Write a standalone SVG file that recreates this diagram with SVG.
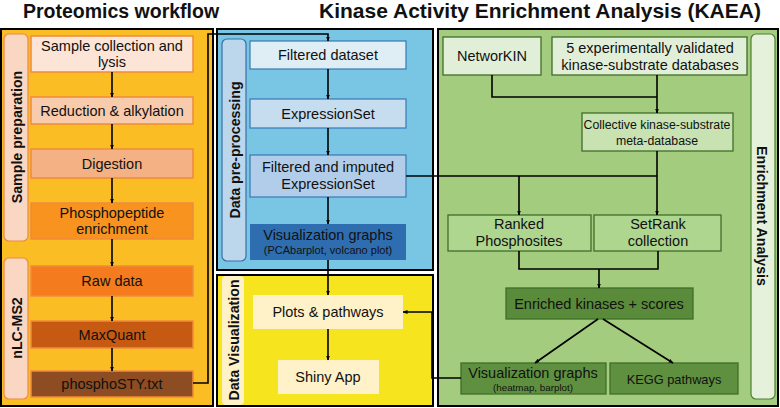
<svg xmlns="http://www.w3.org/2000/svg" width="780" height="408" viewBox="0 0 780 408">
<defs>
<marker id="ah" viewBox="0 0 10 10" refX="9" refY="5" markerWidth="5" markerHeight="5" orient="auto-start-reverse" markerUnits="userSpaceOnUse">
<path d="M0,1 L10,5 L0,9 z" fill="#000"/>
</marker>
<style>
text{font-family:"Liberation Sans",Arial,sans-serif;fill:#111;}
.title{font-size:19.5px;font-weight:bold;text-anchor:middle;}
.lbl{font-size:14.2px;font-weight:bold;text-anchor:middle;}
.t{font-size:14.5px;text-anchor:middle;}
.s{font-size:11px;text-anchor:middle;}
.panel{stroke:#000;stroke-width:2;}
.ob{stroke:#F08A3C;stroke-width:1.5;}
.bb{stroke:#3A78B5;stroke-width:1.2;}
.gb{stroke:#3F6E28;stroke-width:1.3;}
.conn path{fill:none;stroke:#000;stroke-width:1.6;}
.arr{marker-end:url(#ah);}
</style>
</defs>
<rect width="780" height="408" fill="#fff"/>
<text class="title" x="121" y="18">Proteomics workflow</text>
<text class="title" x="540" y="18" style="font-size:21px">Kinase Activity Enrichment Analysis (KAEA)</text>

<!-- panels -->
<g id="panel-proteomics">
<rect class="panel" x="1" y="29" width="212" height="377" fill="#FABE24"/>
</g>
<g id="panel-preprocessing">
<rect class="panel" x="217" y="29" width="216" height="241" fill="#78C6E3"/>
</g>
<g id="panel-visualization">
<rect class="panel" x="217" y="275" width="216" height="131" fill="#F6E41F"/>
</g>
<g id="panel-kaea">
<rect class="panel" x="438" y="29" width="340" height="377" fill="#A3CC7E"/>
</g>

<!-- side labels -->
<g id="lbl-sample-prep">
<rect x="4" y="34" width="24" height="207" rx="5" fill="#F9D7C3" stroke="#EB8A45" stroke-width="1.2"/>
<text class="lbl" transform="translate(22,137) rotate(-90)">Sample preparation</text>
</g>
<g id="lbl-nlc">
<rect x="4" y="258" width="24" height="141" rx="5" fill="#F9D7C3" stroke="#EB8A45" stroke-width="1.2"/>
<text class="lbl" transform="translate(22,328) rotate(-90)">nLC-MS2</text>
</g>
<g id="lbl-data-pre">
<rect x="222" y="39" width="24" height="222" rx="5" fill="#BCD6EC" stroke="#3A6FA8" stroke-width="1.2"/>
<text class="lbl" transform="translate(240,150) rotate(-90)">Data pre-processing</text>
</g>
<g id="lbl-data-vis">
<rect x="222" y="276" width="22" height="129" rx="4" fill="#FFF1C8"/>
<text class="lbl" transform="translate(239,340) rotate(-90)">Data Visualization</text>
</g>
<g id="lbl-enrich">
<rect x="751" y="34" width="24" height="365" rx="5" fill="#E6F1DC" stroke="#4E7F33" stroke-width="1.2"/>
<text class="lbl" transform="translate(757,216) rotate(90)">Enrichment Analysis</text>
</g>

<!-- proteomics boxes -->
<g id="n-sample">
<rect class="ob" x="31" y="36" width="162" height="36" fill="#FCE5D7"/>
<text class="t" x="112" y="51">Sample collection and</text>
<text class="t" x="112" y="67">lysis</text>
</g>
<g id="n-reduction">
<rect class="ob" x="31" y="97" width="162" height="27" fill="#F8CBAD"/>
<text class="t" x="112" y="116">Reduction &amp; alkylation</text>
</g>
<g id="n-digestion">
<rect class="ob" x="31" y="149" width="162" height="29" fill="#F4B184"/>
<text class="t" x="112" y="169">Digestion</text>
</g>
<g id="n-phospho">
<rect class="ob" x="31" y="203" width="162" height="36" fill="#F8931F"/>
<text class="t" x="112" y="218">Phosphopeptide</text>
<text class="t" x="112" y="234">enrichment</text>
</g>
<g id="n-raw">
<rect class="ob" x="31" y="266" width="162" height="30" fill="#F47C1E"/>
<text class="t" x="112" y="286">Raw data</text>
</g>
<g id="n-maxquant">
<rect class="ob" x="31" y="321" width="162" height="27" fill="#C75A12"/>
<text class="t" x="112" y="340">MaxQuant</text>
</g>
<g id="n-phosphosty">
<rect class="ob" x="31" y="371" width="162" height="26" fill="#8D4C22"/>
<text class="t" x="112" y="389">phosphoSTY.txt</text>
</g>

<!-- preprocessing boxes -->
<g id="n-filtered">
<rect class="bb" x="250" y="41" width="156" height="28" fill="#DFEDF4"/>
<text class="t" x="328" y="60">Filtered dataset</text>
</g>
<g id="n-eset">
<rect class="bb" x="250" y="99" width="156" height="29" fill="#C6DDF0"/>
<text class="t" x="328" y="119">ExpressionSet</text>
</g>
<g id="n-imputed">
<rect class="bb" x="250" y="155" width="156" height="42" fill="#B2CDEA"/>
<text class="t" x="328" y="172">Filtered and imputed</text>
<text class="t" x="328" y="189">ExpressionSet</text>
</g>
<g id="n-visgraph-pre">
<rect x="250" y="224" width="156" height="36" fill="#2E6DB0"/>
<text class="t" x="328" y="240">Visualization graphs</text>
<text class="s" x="328" y="254">(PCAbarplot, volcano plot)</text>
</g>

<!-- visualization boxes -->
<g id="n-plots">
<rect x="253" y="295" width="150" height="34" fill="#FFF1C8"/>
<text class="t" x="328" y="317">Plots &amp; pathways</text>
</g>
<g id="n-shiny">
<rect x="278" y="360" width="101" height="34" fill="#FFF1C8"/>
<text class="t" x="328" y="382">Shiny App</text>
</g>

<!-- KAEA boxes -->
<g id="n-networkin">
<rect class="gb" x="443" y="37" width="98" height="38" fill="#E2EFD8"/>
<text class="t" x="492" y="61">NetworKIN</text>
</g>
<g id="n-5db">
<rect class="gb" x="552" y="37" width="195" height="38" fill="#E2EFD8"/>
<text class="t" x="650" y="53">5 experimentally validated</text>
<text class="t" x="650" y="70">kinase-substrate databases</text>
</g>
<g id="n-collective">
<rect class="gb" x="582" y="113" width="151" height="38" fill="#C8E2B2"/>
<text x="657" y="129" style="font-size:12.3px;text-anchor:middle">Collective kinase-substrate</text>
<text x="657" y="145" style="font-size:12.3px;text-anchor:middle">meta-database</text>
</g>
<g id="n-ranked">
<rect class="gb" x="448" y="215" width="143" height="36" fill="#AED68F"/>
<text class="t" x="519" y="229">Ranked</text>
<text class="t" x="519" y="246">Phosphosites</text>
</g>
<g id="n-setrank">
<rect class="gb" x="594" y="215" width="127" height="36" fill="#AED68F"/>
<text class="t" x="658" y="229">SetRank</text>
<text class="t" x="658" y="246">collection</text>
</g>
<g id="n-enriched">
<rect class="gb" x="506" y="288" width="187" height="31" fill="#5A8B3A"/>
<text class="t" x="599" y="309">Enriched kinases + scores</text>
</g>
<g id="n-visgraph-kaea">
<rect class="gb" x="461" y="363" width="145" height="31" fill="#5F903F"/>
<text class="t" x="533" y="378">Visualization graphs</text>
<text class="s" x="533" y="391" style="font-size:9.8px">(heatmap, barplot)</text>
</g>
<g id="n-kegg">
<rect class="gb" x="610" y="363" width="128" height="31" fill="#5F903F"/>
<text x="674" y="384" style="font-size:12.8px;text-anchor:middle">KEGG pathways</text>
</g>

<!-- connectors -->
<g id="connectors" class="conn">
<path class="arr" d="M112,72 V97"/>
<path class="arr" d="M112,124 V149"/>
<path class="arr" d="M112,178 V203"/>
<path class="arr" d="M112,239 V266"/>
<path class="arr" d="M112,296 V321"/>
<path class="arr" d="M112,348 V371"/>
<path class="arr" d="M193,383 H208 V34 H328 V41"/>
<path class="arr" d="M328,69 V99"/>
<path class="arr" d="M328,128 V155"/>
<path class="arr" d="M328,197 V224"/>
<path class="arr" d="M328,260 V295"/>
<path class="arr" d="M328,329 V360"/>
<path d="M406,176 H657"/>
<path class="arr" d="M519,176 V215"/>
<path class="arr" d="M657,151 V215"/>
<path d="M492,75 V97 H657"/>
<path class="arr" d="M657,75 V113"/>
<path d="M519,251 V269 H658 V251"/>
<path class="arr" d="M599,269 V288"/>
<path class="arr" d="M598,319 L535,363"/>
<path class="arr" d="M603,319 L673,363"/>
<path class="arr" d="M461,378 H432 V312 H403"/>
</g>
</svg>
